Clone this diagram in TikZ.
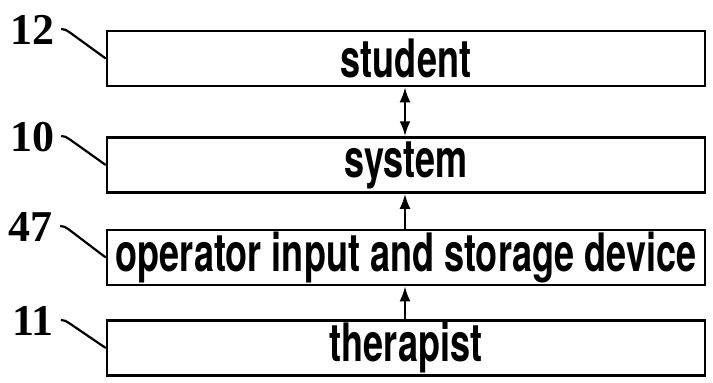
\documentclass[tikz,border=0pt]{standalone}
\usepackage{fontspec}
\setmainfont{TeX Gyre Heros}[FakeStretch=0.68]
\newfontfamily\numfont{Liberation Serif}
\usetikzlibrary{arrows.meta}
\tikzset{
  blk/.style={draw, line width=2.5pt, minimum width=598pt, minimum height=55pt, inner sep=0pt,
    font=\fontsize{53}{56}\selectfont\bfseries},
  lab/.style={inner sep=0pt, font=\numfont\fontsize{44}{48}\selectfont\bfseries},
  leader/.style={line width=2.2pt},
  conn/.style={line width=2.5pt, -{Latex[length=15pt,width=11pt]}},
  dconn/.style={line width=2.5pt, {Latex[length=15pt,width=11pt]}-{Latex[length=15pt,width=11pt]}}
}
\begin{document}
\begin{tikzpicture}[x=1pt,y=1pt]
\useasboundingbox (0,0) rectangle (713,-383);
\node[blk] (student) at (406,-58.5) {student};
\node[blk] (system) at (406,-165) {system};
\node[blk] (operator) at (406,-257.5) {operator input and storage device};
\node[blk] (therapist) at (406,-348) {therapist};
\node[lab] (l12) at (32,-30) {12};
\node[lab] (l10) at (32,-137) {10};
\node[lab] (l47) at (31,-227) {47};
\node[lab] (l11) at (33,-321) {11};
\draw[dconn] (student.south -| 405,0) -- (system.north -| 405,0);
\draw[conn] (operator.north -| 405,0) -- (system.south -| 405,0);
\draw[conn] (therapist.north -| 405,0) -- (operator.south -| 405,0);
\foreach \l/\b in {l12/student, l10/system, l47/operator, l11/therapist}{
  \draw[leader] ([xshift=7pt,yshift=1pt]\l.east) to[out=0,in=146] ++(8,-3) -- (\b.west);
}
\end{tikzpicture}
\end{document}
